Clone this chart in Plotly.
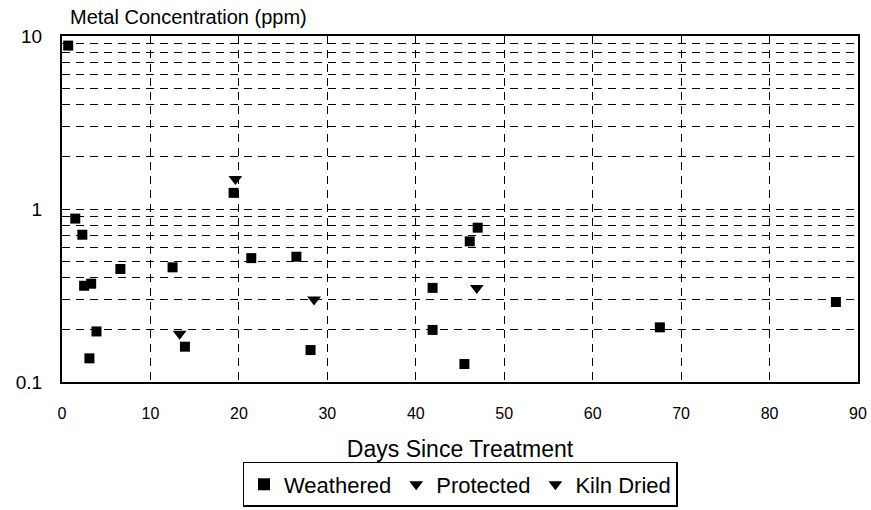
import plotly.graph_objects as go

# Data
weathered_days = [0.7, 1.5, 2.3, 2.5, 3.3, 3.9, 3.1, 6.6, 12.5, 13.9, 19.4, 21.4, 26.5, 28.1,
                  41.9, 41.9, 46.1, 47.0, 45.5, 67.6, 87.5]
weathered_ppm = [8.8, 0.88, 0.71, 0.36, 0.37, 0.196, 0.137, 0.45, 0.46, 0.16, 1.24, 0.52, 0.53, 0.153,
                 0.35, 0.20, 0.65, 0.78, 0.127, 0.207, 0.29]
protected_days = [13.3, 19.6]
protected_ppm = [0.19, 1.49]
kiln_days = [28.5, 46.9]
kiln_ppm = [0.30, 0.35]

x_ticks = [0, 10, 20, 30, 40, 50, 60, 70, 80, 90]
y_ticks = [0.1, 1, 10]
y_ticktext = ["0.1", "1", "10"]
y_minor = [0.2, 0.3, 0.4, 0.5, 0.6, 0.7, 0.8, 0.9, 2, 3, 4, 5, 6, 7, 8, 9]

FONT = "Liberation Sans, Arial, sans-serif"
DASH = "8px,6px"

fig = go.Figure()
fig.add_trace(go.Scatter(x=weathered_days, y=weathered_ppm, mode="markers", name="Weathered",
                         marker=dict(symbol="square", size=10, color="black"), cliponaxis=False))
fig.add_trace(go.Scatter(x=protected_days, y=protected_ppm, mode="markers", name="Protected",
                         marker=dict(symbol="triangle-down", size=12, color="black"), cliponaxis=False))
fig.add_trace(go.Scatter(x=kiln_days, y=kiln_ppm, mode="markers", name="Kiln Dried",
                         marker=dict(symbol="triangle-down", size=12, color="black"), cliponaxis=False))

fig.update_layout(
    width=871, height=510,
    margin=dict(l=62, r=13, t=36, b=128, autoexpand=False),
    paper_bgcolor="white", plot_bgcolor="white",
    font=dict(family=FONT, color="black"),
    showlegend=True,
    legend=dict(orientation="h", x=0.5, xanchor="center", y=-0.231, yanchor="top",
                bordercolor="black", borderwidth=1.5, font=dict(size=22),
                itemsizing="constant", itemwidth=30, traceorder="normal"),
    xaxis=dict(range=[0, 90], tickvals=x_ticks, ticks="", ticklabelstandoff=16,
               tickfont=dict(size=16), showgrid=True, gridcolor="black", griddash=DASH,
               gridwidth=1, showline=True, linecolor="black", linewidth=2, mirror=True,
               zeroline=False, automargin=False,
               title=dict(text="Days Since Treatment", font=dict(size=23), standoff=20)),
    yaxis=dict(type="log", range=[-1, 1], tickvals=y_ticks, ticktext=y_ticktext, ticks="",
               ticklabelstandoff=14, tickfont=dict(size=19), showgrid=True, gridcolor="black",
               griddash=DASH, gridwidth=1, showline=True, linecolor="black", linewidth=2,
               mirror=True, zeroline=False, automargin=False,
               minor=dict(tickvals=y_minor, showgrid=True, gridcolor="black", griddash=DASH,
                          gridwidth=1, ticks="")),
    annotations=[dict(text="Metal Concentration (ppm)", xref="paper", yref="paper",
                      x=0.0075, y=1.055, xanchor="left", yanchor="middle", showarrow=False,
                      font=dict(size=20, family=FONT, color="black"))],
)

fig.write_html("out.html")
